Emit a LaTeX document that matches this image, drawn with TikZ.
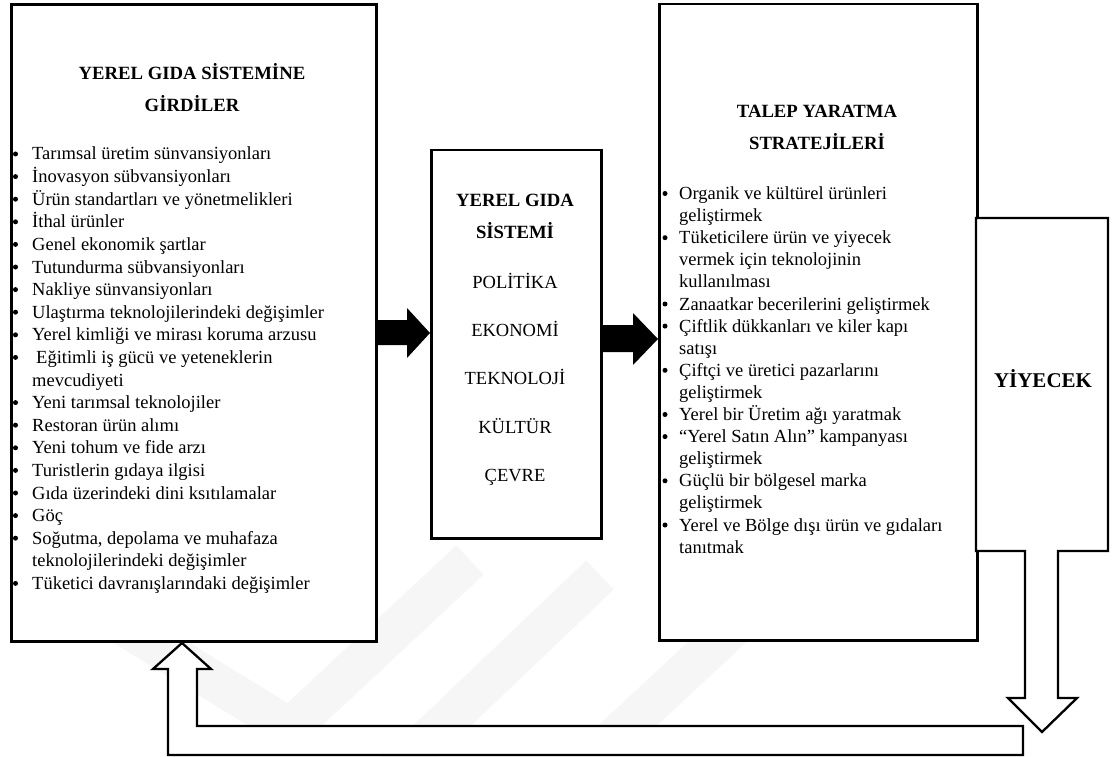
\documentclass[tikz,border=0pt]{standalone}
\usepackage{fontspec}
\setmainfont{Liberation Serif}
\begin{document}
\begin{tikzpicture}[x=1pt,y=-1pt,
  box/.style={draw,line width=2.5pt,fill=white,inner sep=0pt,anchor=north west},
  body/.style={font=\fontsize{18.5}{22}\selectfont,inner sep=0pt,anchor=base west},
  head/.style={font=\fontsize{18.7}{22}\selectfont\bfseries,inner sep=0pt,anchor=base},
  mid/.style={font=\fontsize{18.5}{22}\selectfont,inner sep=0pt,anchor=base},
  food/.style={font=\fontsize{21}{24}\selectfont\bfseries,inner sep=0pt,anchor=base},
  blockarrow/.style={fill=black},
  hollowarrow/.style={draw,line width=2.3pt,fill=white,line join=miter},
  wmark/.style={draw=black!3.5,line width=40pt,line join=miter}
]
\useasboundingbox (0,0) rectangle (1112,757);

% faint background logo
\draw[wmark] (25,565) -- (290,728) -- (470,560);
\draw[wmark] (385,780) -- (600,575);
\draw[wmark] (612,740) -- (800,565);

% the three main boxes
\node[box,line width=3pt,minimum width=365pt,minimum height=637pt] (inputs) at (10,3) {};
\node[box,minimum width=170pt,minimum height=388pt] (system) at (430,149) {};
\node[box,minimum width=318pt,minimum height=636pt] (demand) at (658,3) {};

% food box merged with its downward arrow
\draw[hollowarrow] (976,218) -- (1108,218) -- (1108,551) -- (1058,551) -- (1058,698)
  -- (1077,698) -- (1042,732) -- (1008,698) -- (1025,698) -- (1025,551) -- (976,551) -- cycle;
\node[food] (food) at (1043,387) {YİYECEK};

% feedback arrow back to the inputs
\coordinate (fbtip) at (inputs.south -| 182,0);
\draw[hollowarrow] (1023,726) -- (197,726) -- (197,669) -- (211,669) -- (fbtip)
  -- (153,669) -- (168,669) -- (168,755) -- (1023,755) -- cycle;

% solid arrows between the boxes
\fill[blockarrow] (inputs.east |- 0,320) -- (407,320) -- (407,308) -- (system.west |- 0,333)
  -- (407,358) -- (407,345) -- (inputs.east |- 0,345) -- cycle;
\fill[blockarrow] (system.east |- 0,325) -- (633,325) -- (633,313) -- (demand.west |- 0,339)
  -- (633,365) -- (633,352) -- (system.east |- 0,352) -- cycle;

% inputs box text
\node[head] (inT1) at (192,80) {YEREL GIDA SİSTEMİNE};
\node[head] (inT2) at (192,112) {GİRDİLER};
\foreach \t [count=\i] in {
  Tarımsal üretim sünvansiyonları,
  İnovasyon sübvansiyonları,
  Ürün standartları ve yönetmelikleri,
  İthal ürünler,
  Genel ekonomik şartlar,
  Tutundurma sübvansiyonları,
  Nakliye sünvansiyonları,
  Ulaştırma teknolojilerindeki değişimler,
  Yerel kimliği ve mirası koruma arzusu,
  {\hspace*{4pt}Eğitimli iş gücü ve yeteneklerin},
  mevcudiyeti,
  Yeni tarımsal teknolojiler,
  Restoran ürün alımı,
  Yeni tohum ve fide arzı,
  Turistlerin gıdaya ilgisi,
  Gıda üzerindeki dini ksıtılamalar,
  Göç,
  {Soğutma, depolama ve muhafaza},
  teknolojilerindeki değişimler,
  Tüketici davranışlarındaki değişimler}
  \node[body] (in\i) at (32,{160+(\i-1)*22.6}) {\t};
\foreach \i in {1,...,10,12,13,14,15,16,17,18,20}
  \fill (15.5,{160+(\i-1)*22.6-6}) circle[radius=2.5pt];

% local food system box text
\node[head] (sysT1) at (515,207) {YEREL GIDA};
\node[head] (sysT2) at (515,239) {SİSTEMİ};
\node[mid] (sys1) at (515,288) {POLİTİKA};
\node[mid] (sys2) at (515,336) {EKONOMİ};
\node[mid] (sys3) at (515,384) {TEKNOLOJİ};
\node[mid] (sys4) at (515,433) {KÜLTÜR};
\node[mid] (sys5) at (515,481) {ÇEVRE};

% demand strategies box text
\node[head] (dmT1) at (817,118) {TALEP YARATMA};
\node[head] (dmT2) at (817,150) {STRATEJİLERİ};
\foreach \t [count=\i] in {
  Organik ve kültürel ürünleri,
  geliştirmek,
  Tüketicilere ürün ve yiyecek,
  vermek için teknolojinin,
  kullanılması,
  Zanaatkar becerilerini geliştirmek,
  Çiftlik dükkanları ve kiler kapı,
  satışı,
  Çiftçi ve üretici pazarlarını,
  geliştirmek,
  Yerel bir Üretim ağı yaratmak,
  “Yerel Satın Alın” kampanyası,
  geliştirmek,
  Güçlü bir bölgesel marka,
  geliştirmek,
  Yerel ve Bölge dışı ürün ve gıdaları,
  tanıtmak}
  \node[body] (dm\i) at (679,{199.5+(\i-1)*22.1}) {\t};
\foreach \i in {1,3,6,7,9,11,12,14,16}
  \fill (665,{199.5+(\i-1)*22.1-6}) circle[radius=2.5pt];
\end{tikzpicture}
\end{document}
